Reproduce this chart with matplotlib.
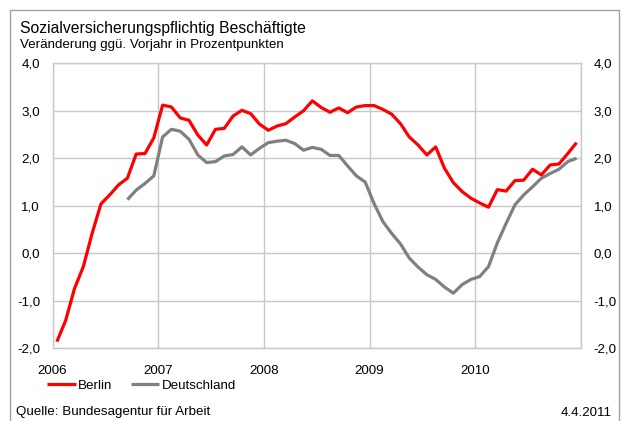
import numpy as np
import matplotlib
matplotlib.use("Agg")
import matplotlib.pyplot as plt
from matplotlib.patches import Rectangle
from matplotlib.ticker import FuncFormatter, FixedLocator

plt.rcParams["font.family"] = ["Liberation Sans", "DejaVu Sans"]

# Monthly change vs. previous year (percentage points), Jan 2006 - Dec 2010
berlin = [
    -1.86, -1.41, -0.74, -0.28, 0.42, 1.04, 1.23, 1.44, 1.58, 2.09, 2.10, 2.43,
    3.12, 3.08, 2.85, 2.80, 2.49, 2.28, 2.61, 2.63, 2.89, 3.01, 2.94, 2.72,
    2.59, 2.68, 2.73, 2.87, 3.00, 3.21, 3.07, 2.97, 3.06, 2.96, 3.08, 3.11,
    3.11, 3.03, 2.93, 2.73, 2.45, 2.28, 2.07, 2.24, 1.79, 1.49, 1.30, 1.16,
    1.06, 0.97, 1.34, 1.31, 1.53, 1.54, 1.77, 1.65, 1.86, 1.88, 2.10, 2.33,
]
# Germany series begins in September 2006
deutschland_start = (2006, 9)
deutschland = [
    1.13, 1.33, 1.47, 1.63,
    2.45, 2.61, 2.57, 2.40, 2.07, 1.91, 1.93, 2.05, 2.08, 2.24, 2.07, 2.21,
    2.33, 2.36, 2.38, 2.31, 2.17, 2.23, 2.19, 2.06, 2.06, 1.84, 1.63, 1.50,
    1.05, 0.67, 0.42, 0.20, -0.10, -0.29, -0.45, -0.55, -0.71, -0.84, -0.66, -0.55,
    -0.49, -0.28, 0.22, 0.63, 1.02, 1.23, 1.40, 1.58, 1.68, 1.77, 1.93, 2.00,
]
years = [2006, 2007, 2008, 2009, 2010]
y_ticks = [-2.0, -1.0, 0.0, 1.0, 2.0, 3.0, 4.0]

title = "Sozialversicherungspflichtig Beschäftigte"
subtitle = "Veränderung ggü. Vorjahr in Prozentpunkten"
source = "Quelle: Bundesagentur für Arbeit"
date_note = "4.4.2011"


def month_pos(year, month):
    # mid-month position on a decimal-year axis
    return year + (month - 0.5) / 12.0


x_berlin = [month_pos(2006 + i // 12, i % 12 + 1) for i in range(len(berlin))]
offset = (deutschland_start[0] - 2006) * 12 + deutschland_start[1] - 1
x_de = [month_pos(2006 + (offset + i) // 12, (offset + i) % 12 + 1)
        for i in range(len(deutschland))]

W, H = 621, 421
fs = 9.6
fig = plt.figure(figsize=(W / 100, H / 100), dpi=100)
ax = fig.add_axes([52.5 / W, 1 - 348.3 / H, (581 - 52.5) / W, (348.3 - 63.3) / H])

grid_col = "#c8c8c8"
ax.plot(x_de, deutschland, color="#808080", lw=2.3, solid_capstyle="butt",
        solid_joinstyle="round", label="Deutschland", zorder=3)
ax.plot(x_berlin, berlin, color="#ff0000", lw=2.3, solid_capstyle="butt",
        solid_joinstyle="round", label="Berlin", zorder=4)

ax.set_xlim(2006, 2011)
ax.set_ylim(-2, 4)
ax.xaxis.set_major_locator(FixedLocator(years + [2011]))
ax.set_xticklabels([str(y) for y in years] + [""])
ax.yaxis.set_major_locator(FixedLocator(y_ticks))
fmt = FuncFormatter(lambda v, p: f"{v:.1f}".replace(".", ","))
ax.yaxis.set_major_formatter(fmt)
ax.tick_params(axis="both", length=0, labelsize=fs, colors="#000000")
ax.tick_params(axis="y", pad=9, labelright=True, right=False)
ax.tick_params(axis="x", pad=12)
ax.grid(True, color=grid_col, lw=1.0)
ax.set_axisbelow(True)
for s in ax.spines.values():
    s.set_color(grid_col)
    s.set_linewidth(1.0)

fig.text(20 / W, 1 - 33.3 / H, title, fontsize=11.3, va="baseline", ha="left")
fig.text(20 / W, 1 - 48.3 / H, subtitle, fontsize=fs, va="baseline", ha="left")
fig.text(16 / W, 1 - 415.5 / H, source, fontsize=fs, va="baseline", ha="left")
fig.text(612 / W, 1 - 415.5 / H, date_note, fontsize=fs, va="baseline", ha="right")

h, l = ax.get_legend_handles_labels()
fig.legend([h[1], h[0]], [l[1], l[0]], loc="center left",
           bbox_to_anchor=(47 / W, 1 - 386 / H), ncol=2, frameon=False,
           fontsize=fs, handlelength=2.14, handletextpad=0.2, columnspacing=1.35,
           borderaxespad=0, borderpad=0)

fig.add_artist(Rectangle((10 / W, -0.05), (619 - 10) / W, 1.05 - 10 / H,
                         transform=fig.transFigure, fill=False,
                         edgecolor="#a0a0a0", lw=1.0))

fig.savefig("out.png", dpi=100)
